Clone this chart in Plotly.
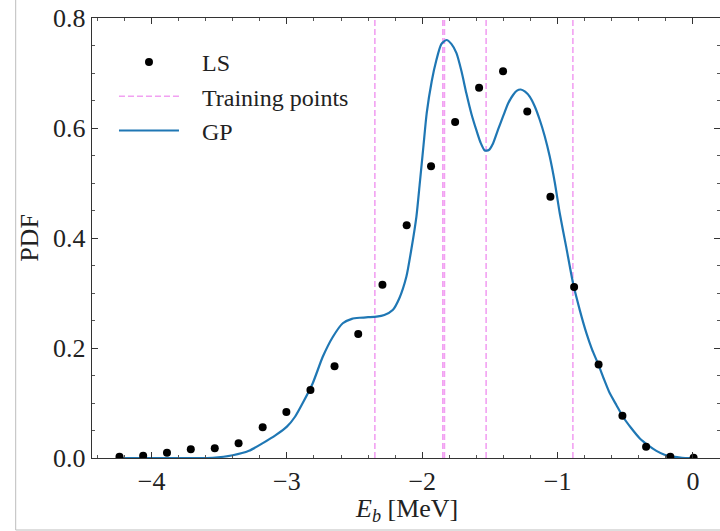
import plotly.graph_objects as go

# LS data points
ls_x = [-4.237, -4.062, -3.886, -3.710, -3.533, -3.357, -3.179, -3.004, -2.826,
        -2.648, -2.473, -2.294, -2.115, -1.935, -1.757, -1.580, -1.403, -1.224,
        -1.053, -0.878, -0.697, -0.521, -0.346, -0.167, 0.005]
ls_y = [0.0024, 0.0040, 0.0096, 0.0158, 0.0176, 0.0267, 0.0560, 0.0836, 0.1236,
        0.1667, 0.2255, 0.3150, 0.4230, 0.5305, 0.6110, 0.6730, 0.7030, 0.6300,
        0.4750, 0.3110, 0.1700, 0.0770, 0.0206, 0.0024, 0.0005]

# Training points (vertical dashed lines)
train_x = [-2.350, -1.848, -1.836, -1.528, -0.887]

# GP curve
gp_x = [-4.24, -3.90, -3.70, -3.547, -3.40, -3.28, -3.178, -3.08, -3.00, -2.94,
        -2.883, -2.809, -2.735, -2.661, -2.587, -2.52, -2.462, -2.40, -2.338,
        -2.28, -2.218, -2.17, -2.117, -2.080, -2.043, -2.018, -1.990, -1.967,
        -1.930, -1.895, -1.860, -1.821, -1.785, -1.747, -1.710, -1.674, -1.637,
        -1.600, -1.570, -1.538, -1.508, -1.477, -1.440, -1.403, -1.365, -1.329,
        -1.300, -1.272, -1.240, -1.206, -1.170, -1.132, -1.095, -1.058, -1.020,
        -0.984, -0.935, -0.886, -0.835, -0.787, -0.745, -0.702, -0.660, -0.615,
        -0.565, -0.517, -0.455, -0.394, -0.330, -0.270, -0.210, -0.148, -0.080,
        -0.024, 0.0]
gp_y = [0.0, 0.0, 0.0, 0.0005, 0.005, 0.013, 0.027, 0.042, 0.057, 0.075,
        0.100, 0.136, 0.184, 0.220, 0.245, 0.253, 0.255, 0.256, 0.257,
        0.260, 0.269, 0.290, 0.330, 0.380, 0.439, 0.500, 0.570, 0.627,
        0.685, 0.724, 0.752, 0.760, 0.753, 0.736, 0.703, 0.663, 0.626,
        0.596, 0.574, 0.559, 0.560, 0.572, 0.597, 0.621, 0.645, 0.660,
        0.668, 0.670, 0.666, 0.657, 0.640, 0.615, 0.585, 0.548, 0.500,
        0.445, 0.382, 0.318, 0.268, 0.227, 0.197, 0.172, 0.145, 0.118,
        0.096, 0.075, 0.054, 0.036, 0.023, 0.013, 0.006, 0.0024, 0.0005,
        0.0, 0.0]

y_ticks = [0.0, 0.2, 0.4, 0.6, 0.8]
x_ticks = [-4, -3, -2, -1, 0]

X_RANGE = [-4.44, 0.20]
Y_RANGE = [0.0, 0.8]

FONT = "Liberation Serif"
FS = 26
PAD = "\u00a0\u00a0\u00a0"

fig = go.Figure()

# training lines as None-separated vertical segments
tx, ty = [], []
for v in train_x:
    tx += [v, v, None]
    ty += [Y_RANGE[0], Y_RANGE[1], None]
fig.add_trace(go.Scatter(
    x=tx, y=ty, mode="lines", name=PAD + "Training points",
    line=dict(color="rgba(238,130,238,0.75)", width=1.6, dash="6px,3px"),
    legendrank=2, legendgroup="b"))

fig.add_trace(go.Scatter(
    x=gp_x, y=gp_y, mode="lines", name=PAD + "GP",
    line=dict(color="#1f77b4", width=2.2, shape="spline", smoothing=0.6),
    legendrank=3, legendgroup="c"))

fig.add_trace(go.Scatter(
    x=ls_x, y=ls_y, mode="markers", name=PAD + "LS",
    marker=dict(color="black", size=8),
    legendrank=1, legendgroup="a"))

axis_common = dict(
    showline=True, linecolor="#333", linewidth=1.4, mirror="allticks",
    ticks="inside", ticklen=6, tickwidth=1, tickcolor="#333",
    showgrid=False, zeroline=False,
    tickfont=dict(family=FONT, size=FS, color="#222"),
)

fig.update_xaxes(
    range=X_RANGE, tickvals=x_ticks,
    minor=dict(dtick=0.2, ticks="inside", ticklen=3, tickcolor="#555"),
    **axis_common)
fig.update_yaxes(
    range=Y_RANGE, tickvals=y_ticks, tickformat=".1f",
    minor=dict(dtick=0.05, ticks="inside", ticklen=3, tickcolor="#555"),
    title=dict(text="PDF", font=dict(family=FONT, size=FS, color="#222"), standoff=6),
    **axis_common)

# x-axis title as annotation
fig.add_annotation(
    text="<i>E</i><sub><i>b</i></sub> [MeV]", xref="paper", yref="paper",
    x=0.5, y=(458 - 510) / 440, xanchor="center", yanchor="middle",
    showarrow=False, font=dict(family=FONT, size=FS, color="#222"))

# outer light grey frame (left and bottom edges)
fx0 = (15.7 - 92) / 628
fy0 = (458 - 530) / 440
fy1 = 458 / 440
fig.add_shape(type="path", xref="paper", yref="paper",
              path=f"M {fx0},{fy1} L {fx0},{fy0} L 1.05,{fy0}",
              line=dict(color="#bdbdbd", width=1))

fig.update_layout(
    width=720, height=531,
    margin=dict(l=92, r=0, t=18, b=73),
    plot_bgcolor="white", paper_bgcolor="white",
    font=dict(family=FONT, size=FS, color="#222"),
    legend=dict(x=0.035, y=0.95, xanchor="left", yanchor="top",
                bgcolor="rgba(0,0,0,0)", borderwidth=0,
                font=dict(family=FONT, size=24, color="#222"),
                itemwidth=60, tracegroupgap=0, traceorder="normal"),
    showlegend=True,
)

fig.write_html("out.html")
